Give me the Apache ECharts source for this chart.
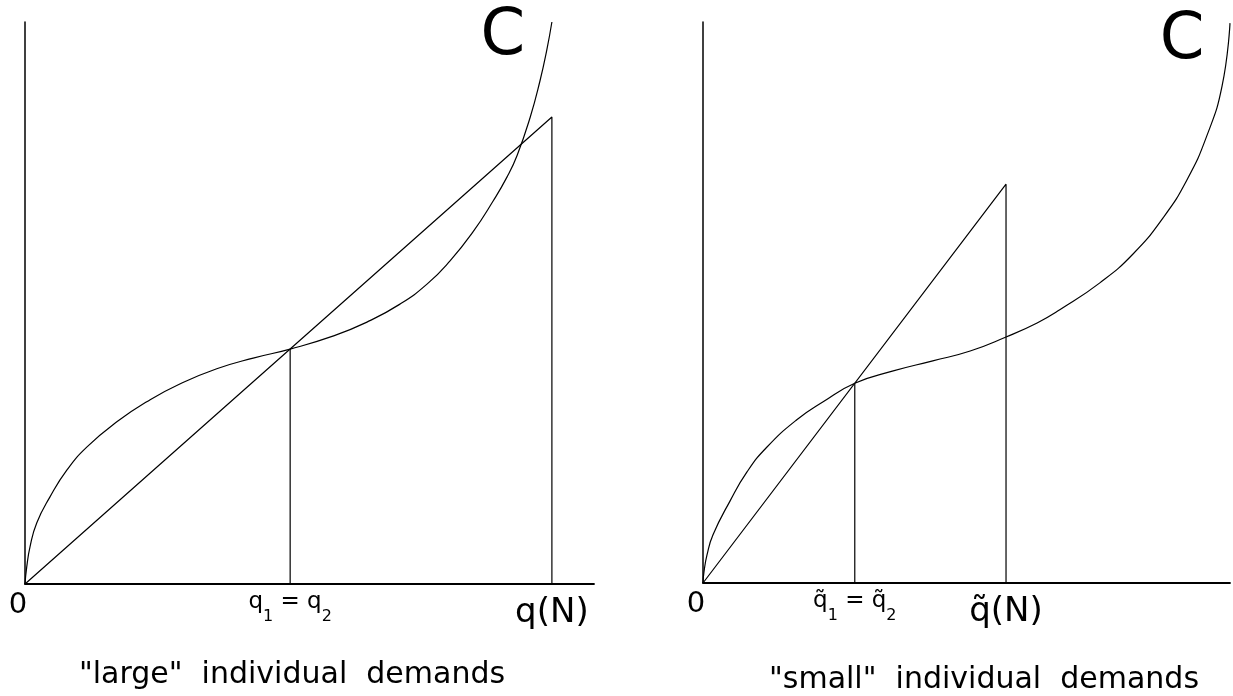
<!DOCTYPE html>
<html>
<head>
<meta charset="utf-8">
<script src="https://cdn.jsdelivr.net/npm/echarts@6/dist/echarts.min.js"></script>
<style>
html,body{margin:0;padding:0;background:#fff;}
#chart{width:1233px;height:696px;}
</style>
</head>
<body>
<div id="chart"></div>
<script>
// ---- data ----
// left panel: "large" individual demands
const leftCurve = [[0,0],[0.30,3.0],[0.88,6.6],[2.06,10.85],[4.39,15.5],[7.38,20.3],[10.9,24.4],[16.2,28.9],[22.0,32.8],[27.2,35.6],[33.7,38.3],[40.1,40.2],[46.6,41.8],[54.1,44.1],[60.1,46.6],[65.9,49.8],[70.7,53.4],[74.7,57.5],[78.7,62.6],[82.3,68.2],[84.7,72.4],[86.5,76.3],[88.8,83.1],[90.5,89.5],[91.7,95.0],[92.6,100]];
const leftQ1 = 46.6, leftQ1Y = 41.8;
const leftQN = 92.6, leftQNY = 83.1;
const leftTicks = [0, leftQ1, leftQN];
const leftTickText = ['{z|0}', '{b|q}{s|1}{b| = q}{s|2}', '{n|q(N)}'];
const leftCaption = '"large"  individual  demands';

// right panel: "small" individual demands
const rightCurve = [[0,0],[0.19,2.0],[0.76,5.0],[1.90,8.6],[5.12,14.6],[8.35,19.8],[12.1,24.2],[17.8,29.1],[22.8,32.3],[28.8,35.6],[36.1,37.8],[43.6,39.6],[50.7,41.35],[57.5,43.85],[63.4,46.35],[67.7,48.7],[75.3,53.5],[81.6,58.65],[87.3,65.1],[91.8,71.8],[95.6,79.7],[98.5,88.6],[100,99.8]];
const rightQ1 = 28.8, rightQ1Y = 35.6;
const rightQN = 57.5, rightQNY = 71.1;
const rightTicks = [0, rightQ1, rightQN];
const rightTickText = ['{z|0}', '{b|q\u0303}{s|1}{b| = q\u0303}{s|2}', '{n|q\u0303(N)}'];
const rightCaption = '"small"  individual  demands';

const curveName = 'C';
const leftCLabelAt = [84.0, 97.3];
const rightCLabelAt = [90.9, 96.6];

// ---- styles ----
const FONT = 'DejaVu Sans';
const INK = '#000';
const rich = {
  z: {fontFamily: FONT, fontSize: 29, lineHeight: 30, color: INK, verticalAlign: 'top', padding: [0, 14, 0, 0]},
  b: {fontFamily: FONT, fontSize: 23, lineHeight: 26, color: INK, verticalAlign: 'top'},
  s: {fontFamily: FONT, fontSize: 16, lineHeight: 16, color: INK, verticalAlign: 'top', padding: [18, 0, 0, 0]},
  n: {fontFamily: FONT, fontSize: 34, lineHeight: 34, color: INK, verticalAlign: 'top', padding: [5, 0, 0, 0]}
};

function xAxisFor(gridIndex, ticks, texts) {
  return {
    type: 'value', gridIndex: gridIndex, min: 0, max: 100,
    axisLine: {show: true, onZero: false, lineStyle: {color: INK, width: 1.8}},
    axisTick: {show: false},
    splitLine: {show: false},
    axisLabel: {
      show: true, margin: 7, customValues: ticks,
      formatter: function (v) {
        let best = 0;
        for (let i = 0; i < ticks.length; i++) if (Math.abs(ticks[i] - v) < Math.abs(ticks[best] - v)) best = i;
        return texts[best];
      },
      rich: rich
    }
  };
}
function yAxisFor(gridIndex) {
  return {
    type: 'value', gridIndex: gridIndex, min: 0, max: 100,
    axisLine: {show: true, onZero: false, lineStyle: {color: INK, width: 1.5}},
    axisTick: {show: false}, axisLabel: {show: false}, splitLine: {show: false}
  };
}
const thin = {color: INK, width: 1.2};
function panelSeries(idx, curve, q1, q1y, qN, qNy, labelAt) {
  return [
    {
      type: 'line', xAxisIndex: idx, yAxisIndex: idx, data: curve, smooth: 0.5,
      showSymbol: false, symbol: 'none', lineStyle: thin, silent: true, z: 3,
      markPoint: {
        symbol: 'circle', symbolSize: 0,
        label: {show: true, formatter: curveName, fontFamily: FONT, fontSize: 64, color: INK, position: 'inside'},
        data: [{coord: labelAt, value: curveName}]
      }
    },
    {
      type: 'line', xAxisIndex: idx, yAxisIndex: idx,
      data: [[0, 0], [qN, qNy], [qN, 0]],
      showSymbol: false, symbol: 'none', lineStyle: thin, silent: true
    },
    {
      type: 'line', xAxisIndex: idx, yAxisIndex: idx,
      data: [[q1, 0], [q1, q1y]],
      showSymbol: false, symbol: 'none', lineStyle: thin, silent: true
    }
  ];
}

const chart = echarts.init(document.getElementById('chart'), null, {renderer: 'canvas'});
chart.setOption({
  backgroundColor: '#fff',
  animation: false,
  title: [
    {text: leftCaption, left: 287, top: 655, textAlign: 'center',
     textStyle: {fontFamily: FONT, fontSize: 30, fontWeight: 'normal', color: INK}},
    {text: rightCaption, left: 979, top: 660, textAlign: 'center',
     textStyle: {fontFamily: FONT, fontSize: 30, fontWeight: 'normal', color: INK}}
  ],
  grid: [
    {left: 25, right: 639, top: 22, bottom: 112},
    {left: 703, right: 3, top: 22, bottom: 113}
  ],
  xAxis: [xAxisFor(0, leftTicks, leftTickText), xAxisFor(1, rightTicks, rightTickText)],
  yAxis: [yAxisFor(0), yAxisFor(1)],
  series: [].concat(
    panelSeries(0, leftCurve, leftQ1, leftQ1Y, leftQN, leftQNY, leftCLabelAt),
    panelSeries(1, rightCurve, rightQ1, rightQ1Y, rightQN, rightQNY, rightCLabelAt)
  )
});
</script>
</body>
</html>
